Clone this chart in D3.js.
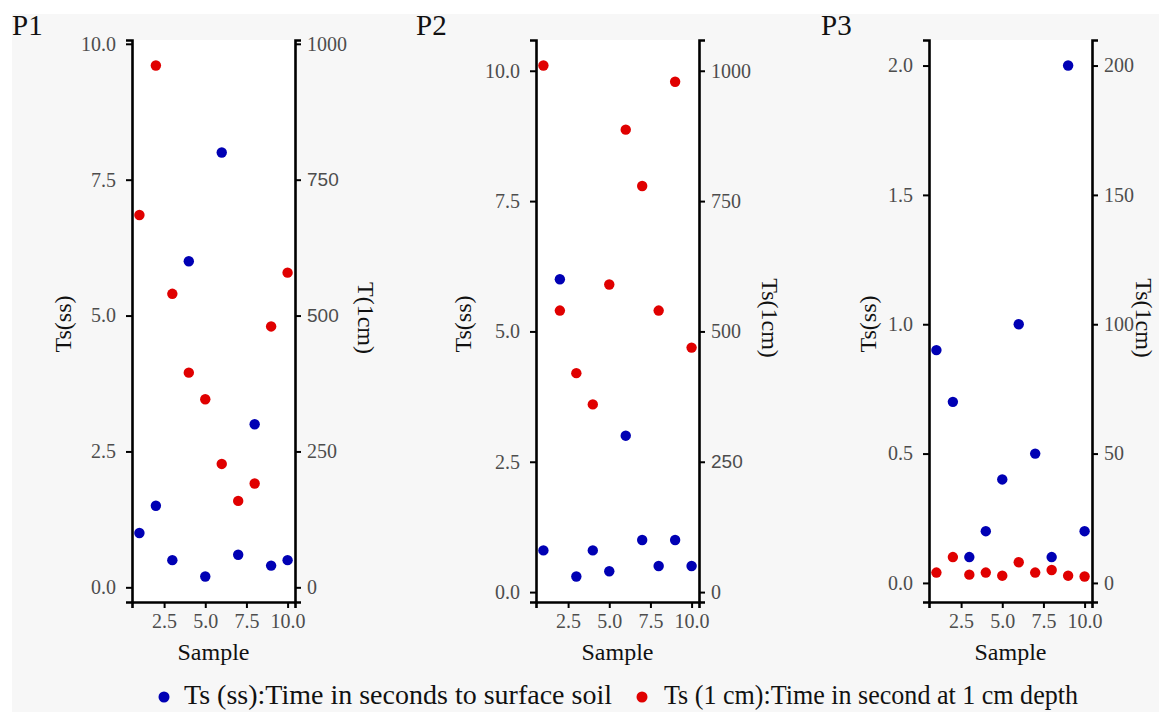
<!DOCTYPE html>
<html>
<head>
<meta charset="utf-8">
<script src="https://cdn.jsdelivr.net/npm/d3@7"></script>
<style>
  html, body { margin: 0; padding: 0; background: #ffffff; }
  svg { display: block; }
  text { font-family: "Liberation Serif", "Times New Roman", serif; }
</style>
</head>
<body>
<svg id="chart" width="1159" height="712"></svg>
<script>
// ---------------- DATA ----------------
const samples = [1, 2, 3, 4, 5, 6, 7, 8, 9, 10];
const panelNames = ["P1", "P2", "P3"];
const p1SS = [1.0, 1.5, 0.5, 6.0, 0.2, 8.0, 0.6, 3.0, 0.4, 0.5];
const p1CM = [685, 960, 540, 395, 346, 227, 159, 191, 480, 579];
const p2SS = [0.8, 6.0, 0.3, 0.8, 0.4, 3.0, 1.0, 0.5, 1.0, 0.5];
const p2CM = [1010, 540, 420, 360, 590, 887, 779, 540, 979, 469];
const p3SS = [0.9, 0.7, 0.1, 0.2, 0.4, 1.0, 0.5, 0.1, 2.0, 0.2];
const p3CM = [4, 10, 3.2, 4, 2.8, 8, 4, 5, 2.8, 2.5];
const leftTicks12 = [0, 2.5, 5, 7.5, 10];
const rightTicks12 = [0, 250, 500, 750, 1000];
const leftTicks3 = [0, 0.5, 1, 1.5, 2];
const rightTicks3 = [0, 50, 100, 150, 200];
const xTicks = [2.5, 5, 7.5, 10];
const leftTitles = ["Ts(ss)", "Ts(ss)", "Ts(ss)"];
const rightTitles = ["T(1cm)", "Ts(1cm)", "Ts(1cm)"];
const xTitle = "Sample";
const secScale = 100;
const legendLabels = ["Ts (ss):Time in seconds to surface soil", "Ts (1 cm):Time in second at 1 cm depth"];
// right-axis tick labels that appear in a sans-serif face in the reference
const sansRightTicks = [[500, 750], [250], []];

// ---------------- STYLE / LAYOUT ----------------
const BLUE = "#0000b4", RED = "#e00000";
const panels = [
  { ss: p1SS, cm: p1CM, lt: leftTicks12, rt: rightTicks12, x0: 132, x1: 295, ltx: 71, rtx: 358 },
  { ss: p2SS, cm: p2CM, lt: leftTicks12, rt: rightTicks12, x0: 536, x1: 699, ltx: 471, rtx: 762 },
  { ss: p3SS, cm: p3CM, lt: leftTicks3, rt: rightTicks3, x0: 929, x1: 1092, ltx: 876, rtx: 1136 }
];
const titleX = [12, 416, 821];
const plotTop = 40, plotBottom = 602;

const svg = d3.select("#chart");
svg.append("rect").attr("x", 12).attr("y", 14).attr("width", 1159 - 12).attr("height", 712 - 14).attr("fill", "#f7f7f7");

panels.forEach((p, i) => {
  const vals = p.ss.concat(p.cm.map(v => v / secScale));
  const mn = d3.min(vals), mx = d3.max(vals), pad = (mx - mn) * 0.05;
  const y = d3.scaleLinear().domain([mn - pad, mx + pad]).range([plotBottom, plotTop]);
  const y2 = d3.scaleLinear().domain([(mn - pad) * secScale, (mx + pad) * secScale]).range([plotBottom, plotTop]);
  const x = d3.scaleLinear().domain([1 - 0.45, 10 + 0.45]).range([p.x0, p.x1]);

  const g = svg.append("g");
  g.append("rect").attr("x", p.x0).attr("y", plotTop).attr("width", p.x1 - p.x0).attr("height", plotBottom - plotTop).attr("fill", "#ffffff");

  // red first, blue on top
  g.selectAll("circle.cm").data(samples).enter().append("circle")
    .attr("cx", d => x(d)).attr("cy", (d, k) => y(p.cm[k] / secScale)).attr("r", 5.2).attr("fill", RED);
  g.selectAll("circle.ss").data(samples).enter().append("circle")
    .attr("cx", d => x(d)).attr("cy", (d, k) => y(p.ss[k])).attr("r", 5.2).attr("fill", BLUE);

  const fmt = d3.format(".1f");
  const ax = g.append("g").attr("transform", `translate(${p.x0},0)`)
    .call(d3.axisLeft(y).tickValues(p.lt).tickFormat(fmt).tickSizeOuter(0).tickSize(6).tickPadding(10));
  const ax2 = g.append("g").attr("transform", `translate(${p.x1},0)`)
    .call(d3.axisRight(y2).tickValues(p.rt).tickFormat(d3.format("d")).tickSizeOuter(0).tickSize(6).tickPadding(6));
  const axb = g.append("g").attr("transform", `translate(0,${plotBottom})`)
    .call(d3.axisBottom(x).tickValues(xTicks).tickFormat(fmt).tickSizeOuter(0).tickSize(6).tickPadding(6));

  [ax, ax2, axb].forEach(a => {
    a.select(".domain").attr("stroke", "#000").attr("stroke-width", 2.6);
    a.selectAll(".tick line").attr("stroke", "#000").attr("stroke-width", 2);
    a.selectAll(".tick text").attr("fill", "#4d4d4d").style("font-size", "20px")
      .style("font-family", "'Liberation Serif', serif");
  });
  ax2.selectAll(".tick text").filter(d => sansRightTicks[i].includes(d))
    .style("font-family", "'Liberation Sans', Arial, sans-serif").style("font-size", "19px");

  // titles
  g.append("text").attr("x", titleX[i]).attr("y", 35).text(panelNames[i])
    .style("font-size", "29px").attr("fill", "#111");
  g.append("text").attr("transform", `translate(${p.ltx},${(plotTop + plotBottom) / 2 + 3}) rotate(-90)`)
    .attr("text-anchor", "middle").text(leftTitles[i]).style("font-size", "24px").attr("fill", "#111");
  g.append("text").attr("transform", `translate(${p.rtx},${(plotTop + plotBottom) / 2 - 3}) rotate(90)`)
    .attr("text-anchor", "middle").text(rightTitles[i]).style("font-size", "24px").attr("fill", "#111");
  g.append("text").attr("x", (p.x0 + p.x1) / 2).attr("y", 660).attr("text-anchor", "middle")
    .text(xTitle).style("font-size", "24px").attr("fill", "#111");
});

// legend
const legend = svg.append("g");
const legItems = [{ cx: 164, tx: 184, len: 428, color: BLUE }, { cx: 642, tx: 664, len: 414, color: RED }];
legItems.forEach((it, k) => {
  legend.append("circle").attr("cx", it.cx).attr("cy", 697).attr("r", 5.5).attr("fill", it.color);
  legend.append("text").attr("x", it.tx).attr("y", 704).text(legendLabels[k])
    .attr("textLength", it.len).attr("lengthAdjust", "spacingAndGlyphs")
    .style("font-size", "27px").attr("fill", "#111");
});
</script>
</body>
</html>
